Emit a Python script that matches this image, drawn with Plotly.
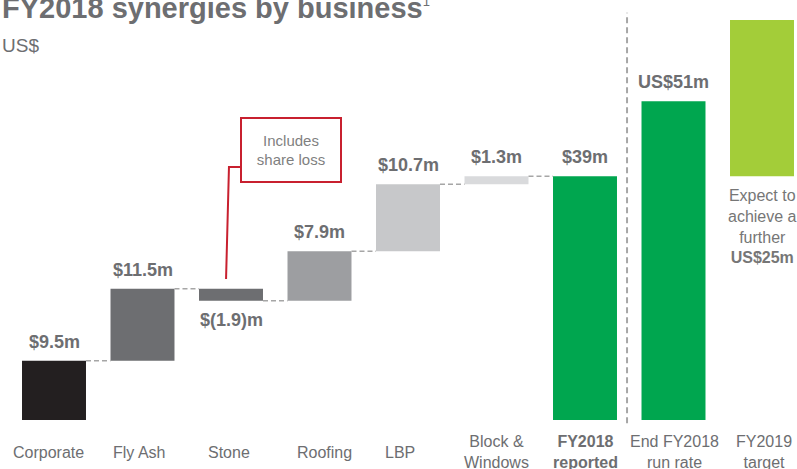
import numpy as np
import plotly.graph_objects as go

# data (US$ m)
categories = ["Corporate", "Fly Ash", "Stone", "Roofing", "LBP", "Block &<br>Windows",
              "<b>FY2018<br>reported</b>", "End FY2018<br>run rate", "FY2019<br>target"]
steps = [9.5, 11.5, -1.9, 7.9, 10.7, 1.3]
reported = 39
run_rate = 51
further = 25
value_labels = ["$9.5m", "$11.5m", "$(1.9)m", "$7.9m", "$10.7m", "$1.3m", "$39m", "US$51m"]
colors = ["#231f20", "#6d6e71", "#6d6e71", "#9d9ea1", "#c7c8ca", "#d9dadc",
          "#00a64f", "#00a64f", "#a3cd39"]

GREY = "#6d6e71"
FONT = "Arial, Liberation Sans, sans-serif"
W = 0.723  # bar width in category units

xs = list(range(len(categories)))
cum = np.cumsum(steps)
starts = cum - np.array(steps)

bases = list(starts) + [0, 0, reported]
heights = list(steps) + [reported, run_rate, further]

fig = go.Figure()
fig.add_trace(go.Bar(x=xs, y=heights, base=bases, width=W,
                     marker=dict(color=colors, line=dict(width=0)),
                     hoverinfo="skip"))

# dashed connectors between the waterfall steps
for i in range(len(steps)):
    fig.add_shape(type="line", x0=i + W / 2, x1=i + 1 - W / 2, y0=cum[i], y1=cum[i],
                  line=dict(color="#a6a6a6", width=1.5, dash="5px,3px"))

# separator between reported and run-rate
fig.add_shape(type="line", xref="x", yref="paper", x0=6.475, x1=6.475, y0=-0.008, y1=1.018,
              line=dict(color="#a6a6a6", width=2, dash="6px,4px"))

# value labels
for i, txt in enumerate(value_labels):
    lo = min(bases[i], bases[i] + heights[i])
    hi = max(bases[i], bases[i] + heights[i])
    below = heights[i] < 0
    fig.add_annotation(x=xs[i], y=lo if below else hi, text="<b>%s</b>" % txt,
                       showarrow=False, yanchor="middle", yshift=-19 if below else 19,
                       font=dict(family=FONT, size=18, color=GREY))

# category labels (not exactly centred under the bars on the source slide)
label_shift = [-6, -4, -2, 5, -8, 0, 0, 1, 2]
for i, c in enumerate(categories):
    fig.add_annotation(x=xs[i], y=-0.08, yref="paper", text=c, showarrow=False,
                       xshift=label_shift[i], yanchor="middle",
                       font=dict(family=FONT, size=16, color=GREY))

# target note
fig.add_annotation(x=xs[8], y=(420 - 226) / 400, yref="paper",
                   text="Expect to<br>achieve a<br>further<br><b>US$25m</b>",
                   showarrow=False, yanchor="middle",
                   font=dict(family=FONT, size=16, color="#767676"))

# callout for Stone
fig.add_shape(type="path", path="M 2.102,40.48 L 1.977,40.48 L 1.944,22.56",
              line=dict(color="#c8202f", width=2))
fig.add_annotation(x=2.678, y=43.2, text="Includes<br>share loss", showarrow=False,
                   width=98, height=62, borderpad=0, borderwidth=2, bordercolor="#c8202f",
                   bgcolor="white", font=dict(family=FONT, size=15, color="#7f7f7f"))

# title and unit
fig.add_annotation(x=0, y=1.03, xref="paper", yref="paper", xanchor="left", yanchor="middle",
                   text="<b>FY2018 synergies by business</b>"
                        "<sup><span style='font-size:13px'>1</span></sup>",
                   showarrow=False, font=dict(family=FONT, size=29, color=GREY))
fig.add_annotation(x=0, y=0.9375, xref="paper", yref="paper", xanchor="left", yanchor="middle",
                   text="US$", showarrow=False, font=dict(family=FONT, size=19, color=GREY))

fig.update_layout(
    width=797, height=469,
    margin=dict(l=0, r=0, t=20, b=49),
    paper_bgcolor="white", plot_bgcolor="white",
    showlegend=False,
    xaxis=dict(range=[-0.6102, 8.3955], visible=False),
    yaxis=dict(range=[0, 64], visible=False),
)

fig.write_html("out.html", config={"displayModeBar": False},
               post_script="document.body.style.margin='0';")
